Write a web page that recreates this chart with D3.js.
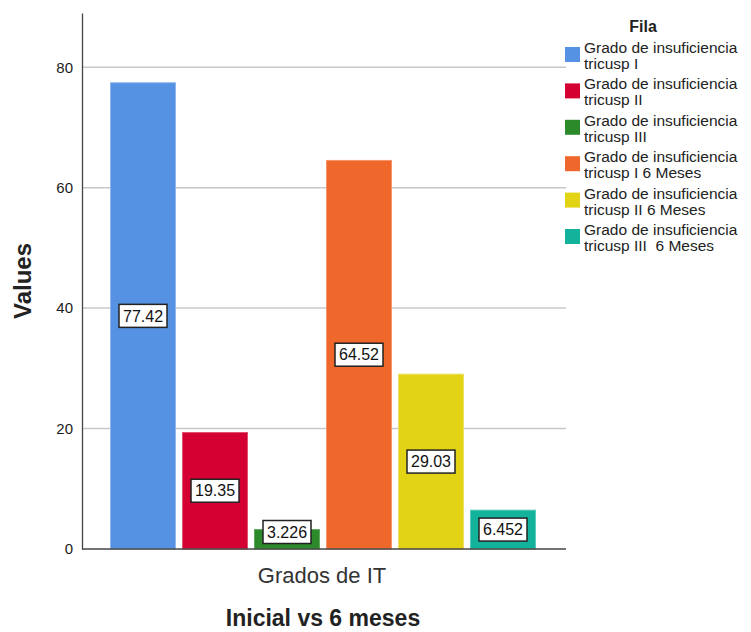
<!DOCTYPE html>
<html><head><meta charset="utf-8">
<script src="https://cdn.jsdelivr.net/npm/d3@7"></script>
<style>body{margin:0;background:#fff}text{font-family:"Liberation Sans",Arial,sans-serif}</style>
</head><body><svg id="c" width="751" height="632"></svg>
<script>
const series = ["Grado de insuficiencia tricusp I","Grado de insuficiencia tricusp II","Grado de insuficiencia tricusp III","Grado de insuficiencia tricusp I 6 Meses","Grado de insuficiencia tricusp II 6 Meses","Grado de insuficiencia tricusp III  6 Meses"];
const legendLines = [["Grado de insuficiencia","tricusp I"],["Grado de insuficiencia","tricusp II"],["Grado de insuficiencia","tricusp III"],["Grado de insuficiencia","tricusp I 6 Meses"],["Grado de insuficiencia","tricusp II 6 Meses"],["Grado de insuficiencia","tricusp III  6 Meses"]];
const values = [77.42, 19.35, 3.226, 64.52, 29.03, 6.452];
const labels = ["77.42","19.35","3.226","64.52","29.03","6.452"];
const colors = ["#5592e3","#d50032","#2d8a2b","#f0672b","#e2d414","#12b39a"];
const strokes = ["#8fb8ee","#e0506f","#5fa85d","#f59466","#ece064","#5acbb8"];
const yTicks = [0,20,40,60,80];

const svg = d3.select("#c");
const y = d3.scaleLinear().domain([0,89]).range([549,13]);
const x = d3.scaleBand().domain(series).range([107,539]).paddingInner(0.0833).paddingOuter(0.0417);

// gridlines
svg.append("g").selectAll("line").data(yTicks.filter(d=>d>0)).join("line")
  .attr("x1",82).attr("x2",566).attr("y1",d=>y(d)).attr("y2",d=>y(d))
  .attr("stroke","#c8c8c8").attr("stroke-width",1.5);

// y axis
const ya = svg.append("g").attr("transform","translate(82,0)")
  .call(d3.axisLeft(y).tickValues(yTicks).tickSize(0).tickPadding(9));
ya.select(".domain").attr("stroke","#444").attr("stroke-width",1.3);
ya.selectAll("text").attr("font-size",15).attr("fill","#222").attr("font-family","Liberation Sans, Arial, sans-serif");

// bars
svg.append("g").selectAll("rect").data(values).join("rect")
  .attr("x",(d,i)=>x(series[i])+0.5).attr("width",x.bandwidth()-1)
  .attr("y",d=>y(d)).attr("height",d=>y(0)-y(d))
  .attr("fill",(d,i)=>colors[i]).attr("stroke",(d,i)=>strokes[i]).attr("stroke-width",1);

// x axis
svg.append("line").attr("x1",82).attr("x2",566).attr("y1",y(0)).attr("y2",y(0))
  .attr("stroke","#444").attr("stroke-width",1.3);

// value labels
const bw=48, bh=23;
const lg = svg.append("g").selectAll("g").data(values).join("g")
  .attr("transform",(d,i)=>{
    const cx = x(series[i])+x.bandwidth()/2;
    const cy = Math.min(y(d/2), y(0)-17);
    return `translate(${cx},${cy})`;
  });
lg.append("rect").attr("x",-bw/2).attr("y",-bh/2).attr("width",bw).attr("height",bh)
  .attr("fill","#fff").attr("stroke","#222").attr("stroke-width",1.5);
lg.append("text").attr("text-anchor","middle").attr("dy","0.36em").attr("font-size",16).attr("fill","#111")
  .text((d,i)=>labels[i]);

// axis titles
svg.append("text").attr("x",322).attr("y",583).attr("text-anchor","middle").attr("font-size",22).attr("fill","#333").text("Grados de IT");
svg.append("text").attr("x",323).attr("y",626).attr("text-anchor","middle").attr("font-size",23).attr("font-weight","bold").attr("fill","#222").text("Inicial vs 6 meses");
svg.append("text").attr("transform","translate(31,281) rotate(-90)").attr("text-anchor","middle").attr("font-size",24).attr("font-weight","bold").attr("fill","#222").text("Values");

// legend
svg.append("text").attr("x",643).attr("y",32).attr("text-anchor","middle").attr("font-size",16).attr("font-weight","bold").attr("fill","#222").text("Fila");
const leg = svg.append("g").selectAll("g").data(series).join("g")
  .attr("transform",(d,i)=>`translate(565,${47+i*36.4})`);
leg.append("rect").attr("width",15).attr("height",15).attr("fill",(d,i)=>colors[i]);
leg.each(function(d,i){
  const g=d3.select(this);
  legendLines[i].forEach((t,j)=>{
    g.append("text").attr("x",19).attr("y",6+j*16).attr("font-size",15.5).attr("fill","#222").text(t.replace(/ /g,"\u00a0"));
  });
});
</script></body></html>
